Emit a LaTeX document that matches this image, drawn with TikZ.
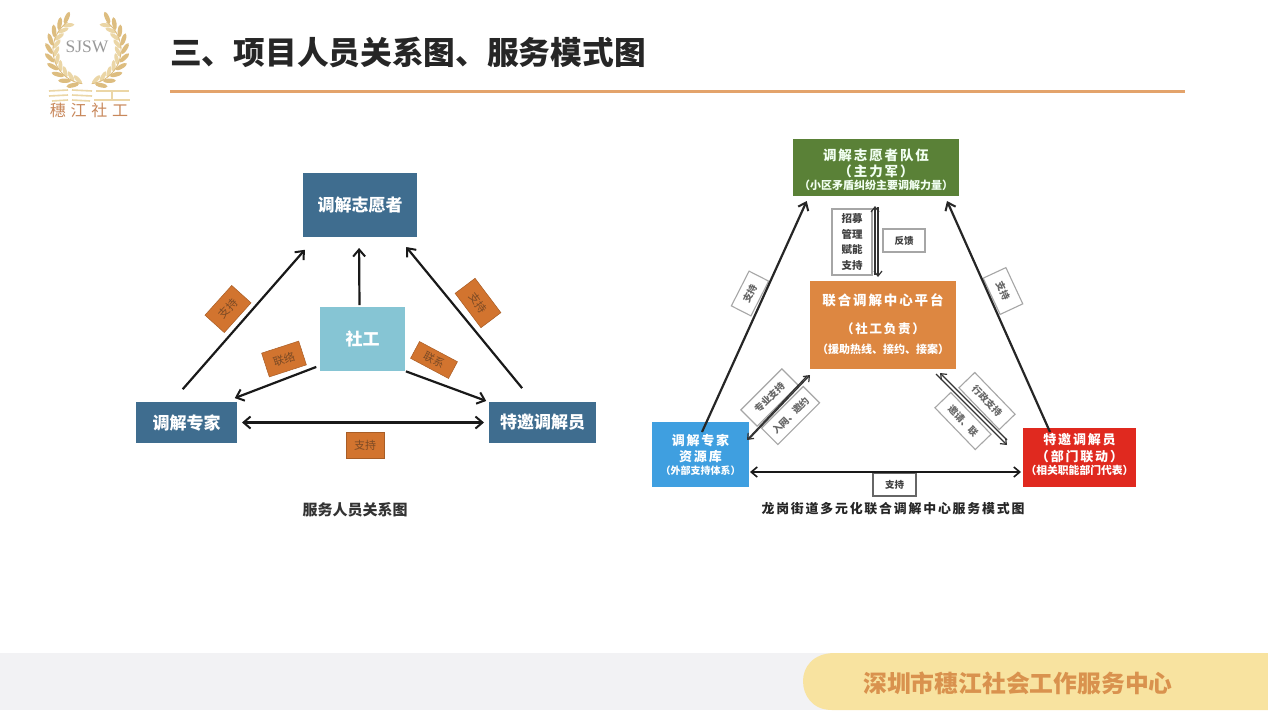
\documentclass[tikz,border=0pt]{standalone}
\usepackage{fontspec}
\usetikzlibrary{arrows.meta}
\setmainfont{Noto Sans CJK SC}
\newfontfamily\spc[LetterSpace=14]{Noto Sans CJK SC}
\newfontfamily\spw[LetterSpace=30]{Noto Sans CJK SC}
\newfontfamily\serifl{Liberation Serif}
\definecolor{steel}{HTML}{3F6D8F}
\definecolor{tealbox}{HTML}{86C5D4}
\definecolor{tagorange}{HTML}{D2742F}
\definecolor{tagtext}{HTML}{7B4A25}
\definecolor{grn}{HTML}{5A8137}
\definecolor{orgbox}{HTML}{DD8741}
\definecolor{bluebox}{HTML}{3F9FE0}
\definecolor{redbox}{HTML}{E0291F}
\definecolor{ruleo}{HTML}{E3A36B}
\definecolor{goldA}{HTML}{DDBD80}
\definecolor{goldB}{HTML}{EBD6A6}
\definecolor{tanT}{HTML}{C8875A}
\definecolor{pill}{HTML}{F8E3A0}
\definecolor{pilltext}{HTML}{D9924E}
\definecolor{band}{HTML}{F2F2F4}
\tikzset{
 boxn/.style={inner sep=0pt,outer sep=0pt,text=white},
 steelbox/.style={boxn,fill=steel,font=\fontsize{17}{20}\selectfont\bfseries},
 tag/.style={fill=tagorange,draw=tagorange!80!black,line width=.5pt,inner sep=0pt,text=tagtext,font=\fontsize{11}{13}\selectfont},
 wtag/.style={fill=white,draw=black!35,line width=1.1pt,inner sep=0pt,text=black!60,font=\fontsize{9.5}{12}\selectfont\bfseries},
 line0/.style={inner sep=0pt,text=white,font=\bfseries},
 big/.style={-{Straight Barb[length=7pt,width=12pt,line width=2pt]},line width=2.2pt,black!90},
 bigboth/.style={{Straight Barb[length=7pt,width=12pt,line width=2pt]}-{Straight Barb[length=7pt,width=12pt,line width=2pt]},line width=2.2pt,black!90},
 mid/.style={-{Straight Barb[length=7pt,width=11pt,line width=2pt]},line width=2.2pt,black!85},
 midboth/.style={{Straight Barb[length=6pt,width=10pt,line width=1.6pt]}-{Straight Barb[length=6pt,width=10pt,line width=1.6pt]},line width=1.6pt,black!90},
 thin1/.style={-{Straight Barb[length=5pt,width=8pt,line width=1.2pt]},line width=1.3pt,black!80},
 leaf/.style={fill=goldA},
 leafb/.style={fill=goldB},
}
\begin{document}
\begin{tikzpicture}[x=1pt,y=-1pt]
\useasboundingbox (0,0) rectangle (1268,710);
\fill[white] (0,0) rectangle (1268,710);
% footer
\fill[band] (0,653) rectangle (1268,710);
\fill[pill] (1268,653) -- (835,653) .. controls (812,653) and (803,668) .. (803,681) .. controls (803,695) and (812,710) .. (832,710) -- (1268,710) -- cycle;
\node[inner sep=0pt,text=pilltext,font=\fontsize{23.8}{26}\selectfont\bfseries] (foot) at (1018,683) {深圳市穗江社会工作服务中心};
% header
\node[inner sep=0pt,anchor=west,text=black!85,font=\fontsize{31.7}{34}\selectfont\bfseries] (title) at (170,52) {三、项目人员关系图、服务模式图};
\fill[ruleo] (170,89.5) rectangle (1185,92.5);
% logo
\foreach \t [count=\i] in {122,136,...,250}{
  \pgfmathsetmacro{\rr}{\t-90}
  \fill[leaf,shift={({87+38*cos(\t)},{50-38*sin(\t)})},rotate=\rr+35] (0,0) ellipse [x radius=6.5pt,y radius=2.2pt];
  \fill[leafb,shift={({87+31*cos(\t+5)},{50-31*sin(\t+5)})},rotate=\rr-25] (0,0) ellipse [x radius=6pt,y radius=2pt];
  \pgfmathsetmacro{\u}{180-\t}
  \pgfmathsetmacro{\rs}{\u+90}
  \fill[leaf,shift={({87+38*cos(\u)},{50-38*sin(\u)})},rotate=\rs-35] (0,0) ellipse [x radius=6.5pt,y radius=2.2pt];
  \fill[leafb,shift={({87+31*cos(\u-5)},{50-31*sin(\u-5)})},rotate=\rs+25] (0,0) ellipse [x radius=6pt,y radius=2pt];
}
\draw[goldA,line width=.8pt] plot[domain=125:262,samples=30] ({87+34*cos(\x)},{50-34*sin(\x)});
\draw[goldA,line width=.8pt] plot[domain=55:-82,samples=30] ({87+34*cos(\x)},{50-34*sin(\x)});
\node[inner sep=0pt,text=black!40,font=\fontsize{17.5}{19}\selectfont\serifl] (sjsw) at (87,47) {SJSW};
\draw[goldB,line width=1.6pt] (49,91) -- (68,90) (72,90) -- (92,91);
\draw[goldB,line width=1.6pt] (49,96) -- (68,95) (72,95) -- (92,96);
\draw[goldB,line width=1.6pt] (52,101) -- (68,100) (72,100) -- (90,101);
\draw[goldB,line width=1.6pt] (96,91) -- (129,91) (112,91) -- (112,100) (94,100) -- (130,100);
\node[inner sep=0pt,text=tanT,font=\fontsize{16}{18}\selectfont\spw] (logot) at (89,110) {穗江社工};
% left diagram tags
\node[tag,minimum width=40pt,minimum height=26pt,rotate=48] (t1) at (228,309) {支持};
\node[tag,minimum width=43pt,minimum height=25pt,rotate=-53] (t2) at (478,303) {支持};
\node[tag,minimum width=39pt,minimum height=25pt,rotate=18] (t3) at (284,359) {联络};
\node[tag,minimum width=43pt,minimum height=19pt,rotate=-28] (t4) at (434,360) {联系};
\node[tag,minimum width=38pt,minimum height=26pt] (t5) at (365,445) {支持};
% left diagram boxes
\node[steelbox,minimum width=114pt,minimum height=64pt] (vol) at (360,205) {调解志愿者};
\node[boxn,fill=tealbox,minimum width=85pt,minimum height=64pt,font=\fontsize{17}{20}\selectfont\bfseries] (she) at (362.5,339) {社工};
\node[steelbox,minimum width=101pt,minimum height=41pt] (zj) at (186.5,422.5) {调解专家};
\node[steelbox,minimum width=107pt,minimum height=41pt] (te) at (542.5,422.5) {特邀调解员};
\node[inner sep=0pt,text=black!80,font=\fontsize{15}{17}\selectfont\bfseries] (cap1) at (355,510) {服务人员关系图};
% left connectors
\draw[big,shorten <=17pt,shorten >=17pt] ([xshift=-15pt]zj.north) -- ([xshift=-44pt]vol.south);
\draw[big,shorten <=2pt,shorten >=11pt] ([xshift=-3pt]she.north) -- ([xshift=-1pt]vol.south);
\draw[big,shorten <=18pt,shorten >=13pt] ([xshift=-9pt]te.north) -- ([xshift=38pt]vol.south);
\draw[big,shorten <=4pt,shorten >=11pt] ([yshift=5.5pt]she.south west) -- ([xshift=38pt]zj.north);
\draw[big,shorten <=1pt,shorten >=3pt] (she.south east) -- (te.north west);
\draw[bigboth,shorten <=5pt,shorten >=5pt] (zj.east) -- (te.west);
% right diagram white tags
\node[wtag,minimum width=39pt,minimum height=22pt,rotate=63] (s1) at (750,293.5) {支持};
\node[wtag,minimum width=40pt,minimum height=25pt,rotate=-65] (s2) at (1003,291) {支持};
\node[wtag,minimum width=58pt,minimum height=23pt,rotate=45] (s3) at (769.5,397.5) {专业支持};
\node[wtag,minimum width=59pt,minimum height=23pt,rotate=45] (s4) at (790.5,415.5) {入网、邀约};
\node[wtag,minimum width=58pt,minimum height=22pt,rotate=-46] (s5) at (987,401) {行政支持};
\node[wtag,minimum width=58pt,minimum height=22pt,rotate=-46] (s6) at (963,421) {邀请、联};
\node[wtag,minimum width=40pt,minimum height=66pt,align=center,text=black!75,font=\fontsize{10.5}{15.5}\selectfont\bfseries] (zm) at (852,242) {招募\\管理\\赋能\\支持};
\node[wtag,minimum width=42pt,minimum height=23pt,text=black!75] (fk) at (904,240.5) {反馈};
\node[wtag,draw=black!60,minimum width=43pt,minimum height=23pt,text=black!75] (zc) at (894.5,484.5) {支持};
% right diagram boxes
\node[boxn,fill=grn,minimum width=166pt,minimum height=57pt] (g) at (876,167.5) {};
\node[line0,text=green!5!white] (g1) at (876,155) {\fontsize{13.5}{15}\selectfont\spc\bfseries 调解志愿者队伍};
\node[line0,text=green!5!white] (g2) at (876,171) {\fontsize{13.5}{15}\selectfont\spc\bfseries （主力军）};
\node[line0,text=green!5!white] (g3) at (876,185) {\fontsize{11}{13}\selectfont\bfseries （小区矛盾纠纷主要调解力量）};
\node[boxn,fill=orgbox,minimum width=146pt,minimum height=88pt] (o) at (883,325) {};
\node[line0] (o1) at (883,300) {\fontsize{13.5}{15}\selectfont\spc\bfseries 联合调解中心平台};
\node[line0] (o2) at (883,329) {\fontsize{12.5}{15}\selectfont\spc\bfseries （社工负责）};
\node[line0] (o3) at (883,349) {\fontsize{11}{13}\selectfont\bfseries （援助热线、接约、接案）};
\node[boxn,fill=bluebox,minimum width=97pt,minimum height=65pt] (b) at (700.5,454.5) {};
\node[line0] (b1) at (700.5,441) {\fontsize{13}{15}\selectfont\spc\bfseries 调解专家};
\node[line0] (b2) at (700.5,457) {\fontsize{13}{15}\selectfont\spc\bfseries 资源库};
\node[line0] (b3) at (700.5,471) {\fontsize{10}{12}\selectfont\bfseries （外部支持体系）};
\node[boxn,fill=redbox,minimum width=113pt,minimum height=59pt] (r) at (1079.5,457.5) {};
\node[line0] (r1) at (1079.5,440) {\fontsize{13}{15}\selectfont\spc\bfseries 特邀调解员};
\node[line0] (r2) at (1079.5,457) {\fontsize{13}{15}\selectfont\spc\bfseries （部门联动）};
\node[line0] (r3) at (1079.5,470) {\fontsize{10.8}{12}\selectfont\bfseries （相关职能部门代表）};
\node[inner sep=0pt,text=black!85,font=\fontsize{12.9}{16}\selectfont\spc\bfseries] (cap2) at (893,509) {龙岗街道多元化联合调解中心服务模式图};
% right connectors
\draw[mid,shorten >=5.5pt] ([xshift=1.5pt,yshift=-10pt]b.north) -- ([xshift=-67pt]g.south);
\draw[mid,shorten >=5.5pt] ([xshift=-29.5pt,yshift=-4pt]r.north) -- ([xshift=68.8pt]g.south);
\draw[midboth,shorten <=1pt,shorten >=2pt] ([yshift=-17.5pt]b.east) -- ([yshift=-14.5pt]r.west);
\draw[thin1,shorten <=6pt,shorten >=10pt] ([xshift=-8pt]o.north) -- ([xshift=-1pt]g.south);
\draw[thin1,shorten <=11pt,shorten >=4pt] ([xshift=2pt]g.south) -- ([xshift=-5pt]o.north);
\draw[thin1] ([yshift=15.5pt]b.east) -- ([xshift=-73pt,yshift=-6pt]o.south);
\draw[thin1] ([xshift=-76pt,yshift=-7pt]o.south) -- ([xshift=-2pt,yshift=14.5pt]b.east);
\draw[thin1] ([xshift=-16pt,yshift=17.5pt]r.west) -- ([xshift=57pt,yshift=-4pt]o.south);
\draw[thin1] ([xshift=53pt,yshift=-5pt]o.south) -- ([xshift=-16pt,yshift=12.5pt]r.west);
\end{tikzpicture}
\end{document}
